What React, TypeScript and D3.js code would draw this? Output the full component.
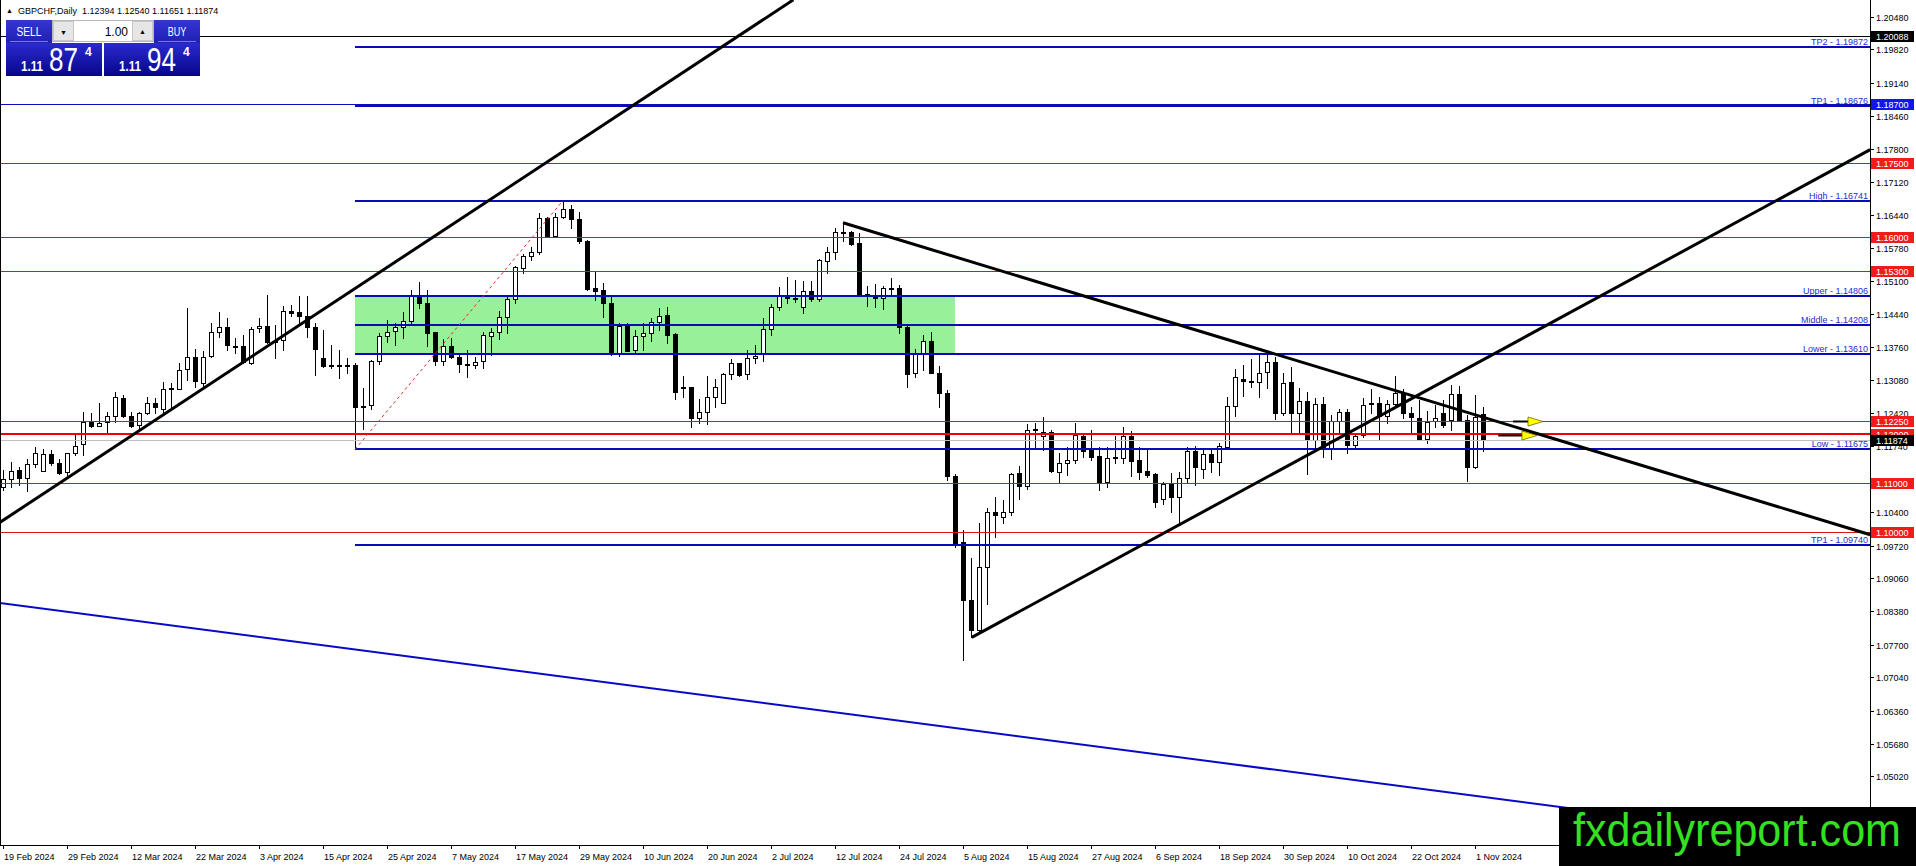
import { useEffect, useRef } from 'react';
import * as d3 from 'd3';

// GBPCHF daily candles, 19 Feb 2024 .. 4 Nov 2024 (bar 0 = 19 Feb)
const opens = [
  1.1092, 1.1107, 1.1125, 1.1109, 1.1137, 1.1124, 1.1158, 1.1139, 1.1121, 1.1160,
  1.1178, 1.1224, 1.1216, 1.1223, 1.1236, 1.1272, 1.1236, 1.1217, 1.1241, 1.1263,
  1.1249, 1.1290, 1.1290, 1.1331, 1.1355, 1.1303, 1.1358, 1.1406, 1.1416, 1.1379,
  1.1379, 1.1343, 1.1414, 1.1418, 1.1389, 1.1390, 1.1450, 1.1447, 1.1440, 1.1417,
  1.1353, 1.1339, 1.1339, 1.1338, 1.1339, 1.1253, 1.1258, 1.1347, 1.1398, 1.1409,
  1.1417, 1.1430, 1.1480, 1.1465, 1.1406, 1.1348, 1.1378, 1.1356, 1.1341, 1.1339,
  1.1348, 1.1399, 1.1407, 1.1438, 1.1473, 1.1538, 1.1562, 1.1570, 1.1638, 1.1602,
  1.1641, 1.1658, 1.1636, 1.1591, 1.1496, 1.1492, 1.1465, 1.1362, 1.1419, 1.1370,
  1.1398, 1.1405, 1.1428, 1.1441, 1.1403, 1.1294, 1.1294, 1.1231, 1.1243, 1.1275,
  1.1263, 1.1322, 1.1343, 1.1321, 1.1354, 1.1362, 1.1412, 1.1458, 1.1480, 1.1476,
  1.1458, 1.1490, 1.1473, 1.1552, 1.1570, 1.1610, 1.1610, 1.1587, 1.1484, 1.1483,
  1.1475, 1.1497, 1.1497, 1.1416, 1.1323, 1.1362, 1.1389, 1.1323, 1.1282, 1.1114,
  1.0980, 1.0862, 1.0800, 1.0929, 1.1041, 1.1030, 1.1041, 1.1119, 1.1094, 1.1207,
  1.1195, 1.1204, 1.1122, 1.1141, 1.1146, 1.1195, 1.1168, 1.1154, 1.1102, 1.1151,
  1.1151, 1.1194, 1.1146, 1.1123, 1.1117, 1.1066, 1.1097, 1.1071, 1.1109, 1.1164,
  1.1127, 1.1158, 1.1143, 1.1173, 1.1256, 1.1312, 1.1307, 1.1304, 1.1325, 1.1345,
  1.1242, 1.1304, 1.1241, 1.1267, 1.1187, 1.1261, 1.1170, 1.1226, 1.1244, 1.1177,
  1.1197, 1.1260, 1.1263, 1.1236, 1.1261, 1.1282, 1.1241, 1.1231, 1.1188, 1.1225,
  1.1241, 1.1227, 1.1280, 1.1227, 1.1132, 1.12394,
];

const highs = [
  1.1126, 1.1143, 1.1132, 1.1149, 1.1173, 1.1168, 1.1166, 1.1149, 1.1161, 1.1197,
  1.1244, 1.1242, 1.1263, 1.1244, 1.1285, 1.1278, 1.1244, 1.1244, 1.1275, 1.1273,
  1.1304, 1.1303, 1.1343, 1.1455, 1.1373, 1.1367, 1.1426, 1.1447, 1.1435, 1.1395,
  1.1401, 1.1416, 1.1435, 1.1482, 1.1421, 1.1460, 1.1462, 1.1479, 1.1479, 1.1426,
  1.1411, 1.1380, 1.1370, 1.1353, 1.1343, 1.1292, 1.1350, 1.1404, 1.1432, 1.1424,
  1.1448, 1.1492, 1.1509, 1.1492, 1.1407, 1.1392, 1.1395, 1.1360, 1.1371, 1.1356,
  1.1407, 1.1415, 1.1450, 1.1482, 1.1541, 1.1565, 1.1580, 1.1648, 1.1640, 1.1648,
  1.16741, 1.1665, 1.1650, 1.1594, 1.1531, 1.1506, 1.1477, 1.1424, 1.1424, 1.1411,
  1.1424, 1.1436, 1.1455, 1.1458, 1.1405, 1.1317, 1.1295, 1.1271, 1.1317, 1.1310,
  1.1324, 1.1351, 1.1344, 1.1371, 1.1381, 1.1436, 1.1464, 1.1499, 1.1519, 1.1512,
  1.1511, 1.1511, 1.1555, 1.1580, 1.1618, 1.1629, 1.1613, 1.1608, 1.1500, 1.1504,
  1.1500, 1.1516, 1.1502, 1.1419, 1.1373, 1.1401, 1.1406, 1.1338, 1.1289, 1.1117,
  1.1003, 1.0946, 1.1017, 1.1048, 1.1070, 1.1064, 1.1120, 1.1134, 1.1219, 1.1222,
  1.1233, 1.1207, 1.1160, 1.1173, 1.1221, 1.1202, 1.1208, 1.1173, 1.1173, 1.1194,
  1.1214, 1.1206, 1.1173, 1.1166, 1.1119, 1.1102, 1.1120, 1.1122, 1.1173, 1.1175,
  1.1168, 1.1168, 1.1181, 1.1275, 1.1331, 1.1340, 1.1351, 1.1360, 1.1367, 1.1356,
  1.1324, 1.1336, 1.1292, 1.1285, 1.1272, 1.1275, 1.1238, 1.1249, 1.1249, 1.1202,
  1.1272, 1.1290, 1.1275, 1.1268, 1.1317, 1.1290, 1.1253, 1.1268, 1.1246, 1.1258,
  1.1268, 1.1299, 1.1297, 1.1237, 1.1278, 1.12540,
];

const lows = [
  1.1085, 1.1092, 1.1095, 1.1082, 1.1132, 1.1124, 1.1136, 1.1117, 1.1115, 1.1156,
  1.1156, 1.1214, 1.1216, 1.1204, 1.1224, 1.1234, 1.1214, 1.1208, 1.1240, 1.1241,
  1.1240, 1.1249, 1.1290, 1.1309, 1.1294, 1.1292, 1.1356, 1.1397, 1.1370, 1.1363,
  1.1343, 1.1341, 1.1407, 1.1384, 1.1353, 1.1370, 1.1439, 1.1424, 1.1397, 1.1319,
  1.1336, 1.1333, 1.1314, 1.1323, 1.11675, 1.1210, 1.1249, 1.1341, 1.1387, 1.1380,
  1.1395, 1.1424, 1.1455, 1.1378, 1.1339, 1.1339, 1.1353, 1.1326, 1.1316, 1.1333,
  1.1333, 1.1360, 1.1392, 1.1404, 1.1466, 1.1527, 1.1553, 1.1565, 1.1601, 1.1600,
  1.1638, 1.1618, 1.1587, 1.1492, 1.1472, 1.1437, 1.1360, 1.1358, 1.1367, 1.1365,
  1.1370, 1.1389, 1.1411, 1.1385, 1.1271, 1.1275, 1.1214, 1.1222, 1.1219, 1.1253,
  1.1263, 1.1310, 1.1317, 1.1312, 1.1344, 1.1348, 1.1401, 1.1451, 1.1466, 1.1468,
  1.1446, 1.1470, 1.1470, 1.1526, 1.1555, 1.1591, 1.1584, 1.1482, 1.1460, 1.1458,
  1.1454, 1.1479, 1.1405, 1.1295, 1.1316, 1.1329, 1.1323, 1.1255, 1.1105, 1.0969,
  1.0739, 1.0786, 1.0796, 1.0853, 1.0990, 1.1018, 1.1034, 1.1066, 1.1087, 1.1170,
  1.1166, 1.1122, 1.1102, 1.1115, 1.1139, 1.1153, 1.1146, 1.1086, 1.1092, 1.1141,
  1.1139, 1.1114, 1.1107, 1.1112, 1.1051, 1.1056, 1.1041, 1.1020, 1.1102, 1.1095,
  1.1109, 1.1122, 1.1115, 1.1170, 1.1236, 1.1276, 1.1295, 1.1275, 1.1292, 1.1229,
  1.1238, 1.1199, 1.1204, 1.1117, 1.1166, 1.1153, 1.1149, 1.1200, 1.1160, 1.1172,
  1.1193, 1.1241, 1.1187, 1.1221, 1.1258, 1.1231, 1.1204, 1.1187, 1.1180, 1.1213,
  1.1214, 1.1207, 1.1226, 1.1104, 1.1129, 1.11651,
];

const closes = [
  1.1107, 1.1124, 1.1109, 1.1137, 1.1160, 1.1158, 1.1139, 1.1120, 1.1160, 1.1175,
  1.1224, 1.1216, 1.1222, 1.1236, 1.1274, 1.1236, 1.1216, 1.1241, 1.1263, 1.1253,
  1.1290, 1.1292, 1.1329, 1.1355, 1.1306, 1.1356, 1.1406, 1.1416, 1.1380, 1.1377,
  1.1346, 1.1413, 1.1418, 1.1387, 1.1388, 1.1450, 1.1446, 1.1440, 1.1416, 1.1373,
  1.1338, 1.1338, 1.1338, 1.1339, 1.1253, 1.1257, 1.1347, 1.1399, 1.1407, 1.1417,
  1.1430, 1.1480, 1.1465, 1.1405, 1.1348, 1.1378, 1.1355, 1.1341, 1.1340, 1.1346,
  1.1400, 1.1407, 1.1438, 1.1473, 1.1540, 1.1562, 1.1570, 1.1638, 1.1602, 1.1641,
  1.1658, 1.1636, 1.1591, 1.1494, 1.1491, 1.1465, 1.1362, 1.1419, 1.1368, 1.1398,
  1.1405, 1.1428, 1.1440, 1.1401, 1.1285, 1.1292, 1.1231, 1.1243, 1.1275, 1.1295,
  1.1322, 1.1343, 1.1319, 1.1353, 1.1358, 1.1412, 1.1458, 1.1481, 1.1475, 1.1475,
  1.1490, 1.1473, 1.1553, 1.1570, 1.1610, 1.1611, 1.1586, 1.1484, 1.1482, 1.1475,
  1.1497, 1.1496, 1.1416, 1.1322, 1.1363, 1.1389, 1.1323, 1.1282, 1.1114, 1.0976,
  1.0862, 1.0800, 1.0929, 1.1041, 1.1035, 1.1041, 1.1117, 1.1094, 1.1207, 1.1209,
  1.1204, 1.1124, 1.1141, 1.1146, 1.1197, 1.1165, 1.1153, 1.1102, 1.1151, 1.1152,
  1.1194, 1.1145, 1.1122, 1.1115, 1.1061, 1.1097, 1.1071, 1.1109, 1.1164, 1.1131,
  1.1158, 1.1143, 1.1174, 1.1256, 1.1316, 1.1306, 1.1305, 1.1323, 1.1345, 1.1242,
  1.1302, 1.1241, 1.1267, 1.1187, 1.1261, 1.1170, 1.1226, 1.1244, 1.1177, 1.1195,
  1.1258, 1.1263, 1.1236, 1.1260, 1.1282, 1.1241, 1.1233, 1.1187, 1.1224, 1.1231,
  1.1217, 1.1280, 1.1227, 1.1132, 1.1233, 1.11874,
];

// one date label every 8 bars
const dateLabels = [
  '19 Feb 2024', '29 Feb 2024', '12 Mar 2024', '22 Mar 2024', '3 Apr 2024', '15 Apr 2024',
  '25 Apr 2024', '7 May 2024', '17 May 2024', '29 May 2024', '10 Jun 2024', '20 Jun 2024',
  '2 Jul 2024', '12 Jul 2024', '24 Jul 2024', '5 Aug 2024', '15 Aug 2024', '27 Aug 2024',
  '6 Sep 2024', '18 Sep 2024', '30 Sep 2024', '10 Oct 2024', '22 Oct 2024', '1 Nov 2024',
];
const barsPerLabel = 8;

const priceTicks = [
  1.2048, 1.1982, 1.1914, 1.1846, 1.178, 1.1712, 1.1644, 1.1578, 1.151, 1.1444, 1.1376, 1.1308,
  1.1242, 1.1174, 1.1106, 1.104, 1.0972, 1.0906, 1.0838, 1.077, 1.0704, 1.0636, 1.0568, 1.0502,
];

const redLevels = [1.175, 1.16, 1.153, 1.1225, 1.12, 1.11, 1.1];
const strongRedLevel = 1.12;
const blueRefLevel = 1.187;
const blackRefLevel = 1.20088;
const bidPrice = 1.11874;

const zoneNames = ['TP2', 'TP1', 'High', 'Upper', 'Middle', 'Lower', 'Low', 'TP1'];
const zoneValues = [1.19872, 1.18676, 1.16741, 1.14806, 1.14208, 1.1361, 1.11675, 1.0974];
const zoneStartBar = 44;
const boxEndBar = 119;

// trend lines as [bar, price] end points
const blackTrends: [number, number][][] = [
  [[-0.4, 1.1019], [98.8, 1.2083]],
  [[121.1, 1.0785], [233.4, 1.1778]],
  [[105, 1.1629], [233.4, 1.0994]],
];
const blueTrend: [number, number][] = [[-0.4, 1.0855], [233.4, 1.0357]];
const dashedTrend: [number, number][] = [[44, 1.11675], [70, 1.16741]];

const arrowTails = [188.75, 186.9];
const arrowTips = [192.5, 191.75];
const arrowPrices = [1.1225, 1.1196];

const symbolTitle = 'GBPCHF,Daily';
const sellQuote = ['1.11', '87', '4'];
const buyQuote = ['1.11', '94', '4'];
const lotSize = '1.00';

const App = () => {
  const svgRef = useRef<SVGSVGElement>(null);

  useEffect(() => {
    if (!svgRef.current) return;
    const svg = d3.select(svgRef.current);
    svg.selectAll('*').remove();

    const width = 1916;
    const height = 866;
    const plotRight = 1870;
    const plotBottom = 845;
    const font = '"Liberation Sans", Arial, sans-serif';

    const x = d3.scaleLinear().domain([0, 233]).range([3, 3 + 8 * 233]);
    const y = d3.scaleLinear().domain([1.03623, 1.20826]).range([plotBottom, 0]);
    const py = (p: number) => Math.round(y(p)) + 0.5;

    svg.attr('width', width).attr('height', height);
    svg.append('rect').attr('width', width).attr('height', height).attr('fill', '#fff');

    const defs = svg.append('defs');
    defs.append('clipPath').attr('id', 'plot-clip')
      .append('rect').attr('x', 0).attr('y', 0).attr('width', plotRight).attr('height', plotBottom);

    const grad = (id: string, top: string, bottom: string) => {
      const g = defs.append('linearGradient').attr('id', id)
        .attr('x1', '0%').attr('y1', '0%').attr('x2', '0%').attr('y2', '100%');
      g.append('stop').attr('offset', '0%').attr('stop-color', top);
      g.append('stop').attr('offset', '100%').attr('stop-color', bottom);
    };
    grad('label-grad', '#3535d2', '#2020b4');
    grad('quote-grad', '#2a2ad0', '#06068a');

    const plot = svg.append('g').attr('clip-path', 'url(#plot-clip)');

    // green zone box
    plot.append('rect')
      .attr('x', x(zoneStartBar))
      .attr('y', y(zoneValues[3]))
      .attr('width', x(boxEndBar) - x(zoneStartBar))
      .attr('height', y(zoneValues[5]) - y(zoneValues[3]))
      .attr('fill', '#98f098');

    // candles
    const bars = d3.range(opens.length);
    plot.append('g').selectAll('line').data(bars).join('line')
      .attr('x1', i => x(i) + 0.5).attr('x2', i => x(i) + 0.5)
      .attr('y1', i => Math.round(y(highs[i])))
      .attr('y2', i => Math.round(y(lows[i])) + 1)
      .attr('stroke', '#000');
    plot.append('g').selectAll('rect').data(bars).join('rect')
      .attr('x', i => x(i) - 1.5)
      .attr('y', i => py(Math.max(opens[i], closes[i])))
      .attr('width', 4)
      .attr('height', i => Math.max(1, py(Math.min(opens[i], closes[i])) - py(Math.max(opens[i], closes[i]))))
      .attr('fill', i => (closes[i] > opens[i] ? '#fff' : '#000'))
      .attr('stroke', '#000');

    // full width levels
    plot.append('line').attr('x1', 0).attr('x2', plotRight)
      .attr('y1', py(bidPrice)).attr('y2', py(bidPrice)).attr('stroke', '#c0c0c0');
    plot.append('line').attr('x1', 0).attr('x2', plotRight)
      .attr('y1', py(blackRefLevel)).attr('y2', py(blackRefLevel)).attr('stroke', '#000');
    plot.append('line').attr('x1', 0).attr('x2', plotRight)
      .attr('y1', py(blueRefLevel)).attr('y2', py(blueRefLevel)).attr('stroke', '#0c0cc0');
    plot.append('g').selectAll('line').data(redLevels).join('line')
      .attr('x1', 0).attr('x2', plotRight)
      .attr('y1', d => (d === strongRedLevel ? Math.round(y(d)) : py(d)))
      .attr('y2', d => (d === strongRedLevel ? Math.round(y(d)) : py(d)))
      .attr('stroke', d => (d === strongRedLevel ? '#f00000' : '#d81818'))
      .attr('stroke-width', d => (d === strongRedLevel ? 2 : 1));

    // zone levels with their names
    plot.append('g').selectAll('line').data(zoneValues).join('line')
      .attr('x1', x(zoneStartBar)).attr('x2', plotRight)
      .attr('y1', d => Math.round(y(d))).attr('y2', d => Math.round(y(d)))
      .attr('stroke', '#0a0ab8').attr('stroke-width', 2);
    plot.append('g').selectAll('text').data(zoneValues).join('text')
      .attr('x', plotRight - 2)
      .attr('y', d => Math.round(y(d)) - 2)
      .attr('text-anchor', 'end')
      .attr('font-family', font).attr('font-size', 9)
      .attr('fill', '#2a2ad0')
      .text((d, i) => `${zoneNames[i]} - ${d.toFixed(5)}`);

    // trend lines
    const line = d3.line<[number, number]>().x(d => x(d[0])).y(d => y(d[1]));
    plot.append('path').attr('d', line(blueTrend)).attr('fill', 'none')
      .attr('stroke', '#0808c8').attr('stroke-width', 2);
    plot.append('path').attr('d', line(dashedTrend)).attr('fill', 'none')
      .attr('stroke', '#e03030').attr('stroke-width', 1).attr('stroke-dasharray', '3,3');
    plot.append('g').selectAll('path').data(blackTrends).join('path')
      .attr('d', d => line(d)).attr('fill', 'none')
      .attr('stroke', '#000').attr('stroke-width', 3);

    // arrows
    arrowPrices.forEach((p, i) => {
      const ay = Math.round(y(p)) + 0.5;
      const tip = x(arrowTips[i]);
      const head = tip - 15;
      plot.append('line').attr('x1', x(arrowTails[i])).attr('x2', head)
        .attr('y1', ay).attr('y2', ay).attr('stroke', '#000').attr('stroke-width', 2);
      plot.append('path')
        .attr('d', `M${head},${ay - 4.5}L${tip},${ay}L${head},${ay + 4.5}Z`)
        .attr('fill', '#ffff00').attr('stroke', '#6a6a00').attr('stroke-width', 0.8);
    });

    // frame
    svg.append('line').attr('x1', 0.5).attr('x2', 0.5).attr('y1', 0).attr('y2', plotBottom).attr('stroke', '#000');
    svg.append('line').attr('x1', plotRight + 0.5).attr('x2', plotRight + 0.5).attr('y1', 0).attr('y2', plotBottom + 1).attr('stroke', '#000');
    svg.append('line').attr('x1', 0).attr('x2', plotRight + 1).attr('y1', plotBottom + 0.5).attr('y2', plotBottom + 0.5).attr('stroke', '#000');

    // price axis
    const axisY = svg.append('g');
    axisY.selectAll('line').data(priceTicks).join('line')
      .attr('x1', plotRight).attr('x2', plotRight + 4)
      .attr('y1', d => py(d)).attr('y2', d => py(d)).attr('stroke', '#000');
    axisY.selectAll('text').data(priceTicks).join('text')
      .attr('x', plotRight + 6).attr('y', d => Math.round(y(d)) + 3.5)
      .attr('font-family', font).attr('font-size', 9).attr('fill', '#000')
      .text(d => d.toFixed(5));

    // date axis
    const axisX = svg.append('g');
    axisX.selectAll('line').data(dateLabels).join('line')
      .attr('x1', (d, i) => x(i * barsPerLabel) + 0.5).attr('x2', (d, i) => x(i * barsPerLabel) + 0.5)
      .attr('y1', plotBottom).attr('y2', plotBottom + 4).attr('stroke', '#000');
    axisX.selectAll('text').data(dateLabels).join('text')
      .attr('x', (d, i) => x(i * barsPerLabel) + 1).attr('y', plotBottom + 15)
      .attr('font-family', font).attr('font-size', 9).attr('fill', '#000')
      .text(d => d);

    // price marks on axis
    const marks: { p: number; bg: string }[] = [
      { p: blackRefLevel, bg: '#000' },
      { p: blueRefLevel, bg: '#1414f0' },
      ...redLevels.map(p => ({ p, bg: '#f01c1c' })),
      { p: bidPrice, bg: '#000' },
    ];
    const markG = svg.append('g').selectAll('g').data(marks).join('g');
    markG.append('rect')
      .attr('x', plotRight + 1).attr('y', d => Math.round(y(d.p)) - 5)
      .attr('width', 43).attr('height', 11).attr('fill', d => d.bg);
    markG.append('text')
      .attr('x', plotRight + 6).attr('y', d => Math.round(y(d.p)) + 3.5)
      .attr('font-family', font).attr('font-size', 9).attr('fill', '#fff')
      .text(d => d.p.toFixed(5));

    // header
    const last = opens.length - 1;
    svg.append('text').attr('x', 6).attr('y', 13).attr('font-size', 7)
      .attr('font-family', font).attr('fill', '#000').text('▲');
    svg.append('text').attr('x', 18).attr('y', 14)
      .attr('font-family', font).attr('font-size', 9).attr('fill', '#000')
      .attr('xml:space', 'preserve')
      .text(`${symbolTitle}  ${[opens[last], highs[last], lows[last], closes[last]].map(v => v.toFixed(5)).join(' ')}`);

    // one-click trading panel
    const panel = svg.append('g').attr('font-family', font);
    const quoteBlock = (bx: number, labelX: number, labelW: number, label: string, q: string[]) => {
      panel.append('rect').attr('x', labelX).attr('y', 20).attr('width', labelW).attr('height', 23)
        .attr('fill', 'url(#label-grad)');
      panel.append('line').attr('x1', labelX + 4).attr('x2', labelX + labelW - 4)
        .attr('y1', 41.5).attr('y2', 41.5).attr('stroke', '#7a7ae6');
      panel.append('text').attr('x', labelX + labelW / 2).attr('y', 36).attr('text-anchor', 'middle')
        .attr('font-size', 12).attr('fill', '#fff')
        .attr('textLength', label.length * 6.2).attr('lengthAdjust', 'spacingAndGlyphs').text(label);
      panel.append('rect').attr('x', bx).attr('y', 43).attr('width', 96).attr('height', 33)
        .attr('fill', 'url(#quote-grad)');
      panel.append('text').attr('x', bx + 15).attr('y', 71).attr('font-size', 15).attr('font-weight', 'bold')
        .attr('fill', '#fff').attr('textLength', 22).attr('lengthAdjust', 'spacingAndGlyphs').text(q[0]);
      panel.append('text').attr('x', bx + 43).attr('y', 71).attr('font-size', 33)
        .attr('fill', '#fff').attr('textLength', 29).attr('lengthAdjust', 'spacingAndGlyphs').text(q[1]);
      panel.append('text').attr('x', bx + 79).attr('y', 56).attr('font-size', 12).attr('font-weight', 'bold')
        .attr('fill', '#fff').text(q[2]);
    };
    quoteBlock(6, 6, 46, 'SELL', sellQuote);
    quoteBlock(104, 154, 46, 'BUY', buyQuote);

    panel.append('rect').attr('x', 52.5).attr('y', 20.5).attr('width', 101).attr('height', 21)
      .attr('fill', '#fff').attr('stroke', '#b8b8b8');
    [53, 132].forEach((bx, k) => {
      panel.append('rect').attr('x', bx + 0.5).attr('y', 21.5).attr('width', 20).attr('height', 19)
        .attr('fill', '#e6e6e6').attr('stroke', '#c8c8c8');
      panel.append('text').attr('x', bx + 10.5).attr('y', k === 0 ? 35 : 34).attr('text-anchor', 'middle')
        .attr('font-size', 7).attr('fill', '#000').text(k === 0 ? '▼' : '▲');
    });
    panel.append('text').attr('x', 128).attr('y', 35.5).attr('text-anchor', 'end')
      .attr('font-size', 12).attr('fill', '#000').text(lotSize);

    // watermark
    svg.append('rect').attr('x', 1559).attr('y', 807).attr('width', width - 1559).attr('height', height - 807)
      .attr('fill', '#000');
    svg.append('text').attr('x', 1573).attr('y', 846)
      .attr('font-family', font).attr('font-size', 46).attr('fill', '#33e022')
      .attr('textLength', 328).attr('lengthAdjust', 'spacingAndGlyphs')
      .text('fxdailyreport.com');
  }, []);

  return (
    <div style={{ position: 'fixed', left: 0, top: 0 }}>
      <svg ref={svgRef} style={{ display: 'block' }}></svg>
    </div>
  );
};

export default App;
